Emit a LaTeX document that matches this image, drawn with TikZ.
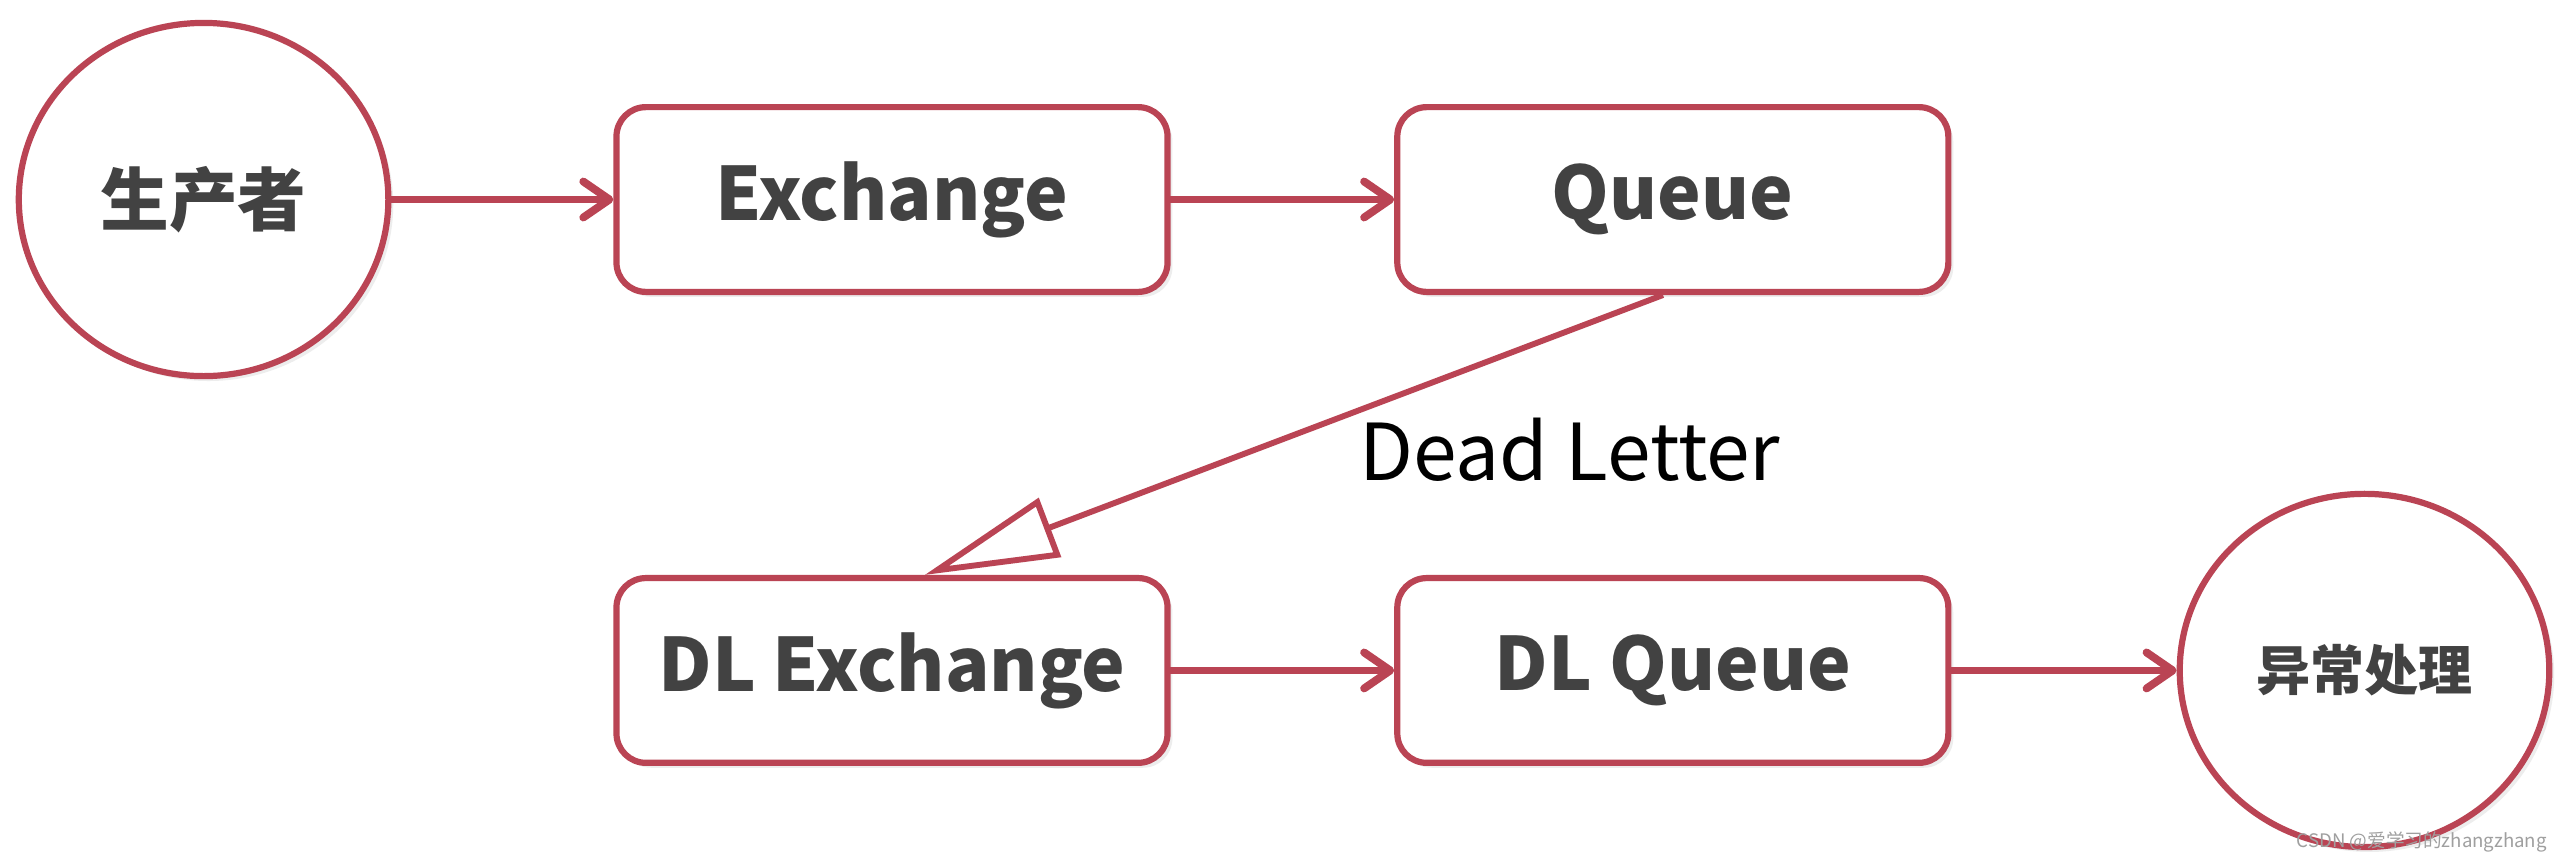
\documentclass[tikz,border=0pt]{standalone}
\usepackage{fontspec}
\usepackage{tikz}
\usetikzlibrary{shapes.geometric,arrows.meta,shadows}
\newfontfamily\cjk{Noto Sans CJK SC}
\definecolor{boxred}{RGB}{186,68,84}
\definecolor{txtgray}{RGB}{66,66,66}
\tikzset{
  soft/.style={drop shadow={opacity=0.14,shadow xshift=1.5pt,shadow yshift=-1.5pt}},
  box/.style={draw=boxred,line width=1.9pt,fill=white,rounded corners=9pt,
    minimum width=168.5pt,minimum height=56.5pt,inner sep=0pt,soft,
    text=txtgray,font=\cjk\bfseries\fontsize{22.5}{27}\selectfont},
  blob/.style={ellipse,draw=boxred,line width=1.9pt,fill=white,
    minimum width=113pt,minimum height=108pt,inner sep=0pt,soft,
    text=txtgray},
  flow/.style={draw=boxred,line width=2.4pt,line cap=round,
    -{Straight Barb[round,length=8pt,width=11pt]}},
  deadflow/.style={draw=boxred,line width=1.8pt,
    -{Triangle[length=41pt,width=19pt,fill=white]}}
}
\begin{document}
\begin{tikzpicture}[x=0.5pt,y=0.5pt,yscale=-1,xscale=1]
%background
\fill[white] (0,0) rectangle (1568,527);
\useasboundingbox (0,0) rectangle (1568,527);

%Shape: Ellipse [producer]
\node[blob,font=\cjk\bfseries\fontsize{21}{25}\selectfont] (prod) at (124.5,122) {生产者};
%Shape: Rounded Rectangle [exchange]
\node[box] (ex) at (545.5,122) {Exchange};
%Shape: Rounded Rectangle [queue]
\node[box] (queue) at (1023,122) {Queue};
%Shape: Rounded Rectangle [dead letter exchange]
\node[box] (dlex) at (545.5,410) {DL Exchange};
%Shape: Rounded Rectangle [dead letter queue]
\node[box] (dlq) at (1023,410) {DL Queue};
%Shape: Ellipse [error handling]
\node[blob,font=\cjk\bfseries\fontsize{16.5}{20}\selectfont] (err) at (1446,410) {异常处理};

%Straight Lines with arrows
\draw[flow] (prod.east) -- (ex.west);
\draw[flow] (ex.east) -- (queue.west);
\draw[flow] (dlex.east) -- (dlq.west);
\draw[flow] (dlq.east) -- (err.west);
\draw[deadflow] ([xshift=-3pt]queue.south) -- ([xshift=10pt]dlex.north);

% Text Node
\node[font=\cjk\fontsize{24}{28}\selectfont,text=black] (dltxt) at (960,275) {Dead Letter};
% Text Node
\node[font=\cjk\fontsize{5.7}{7}\selectfont,text=gray!75] (mark) at (1481,515) {CSDN @爱学习的zhangzhang};

\end{tikzpicture}
\end{document}
